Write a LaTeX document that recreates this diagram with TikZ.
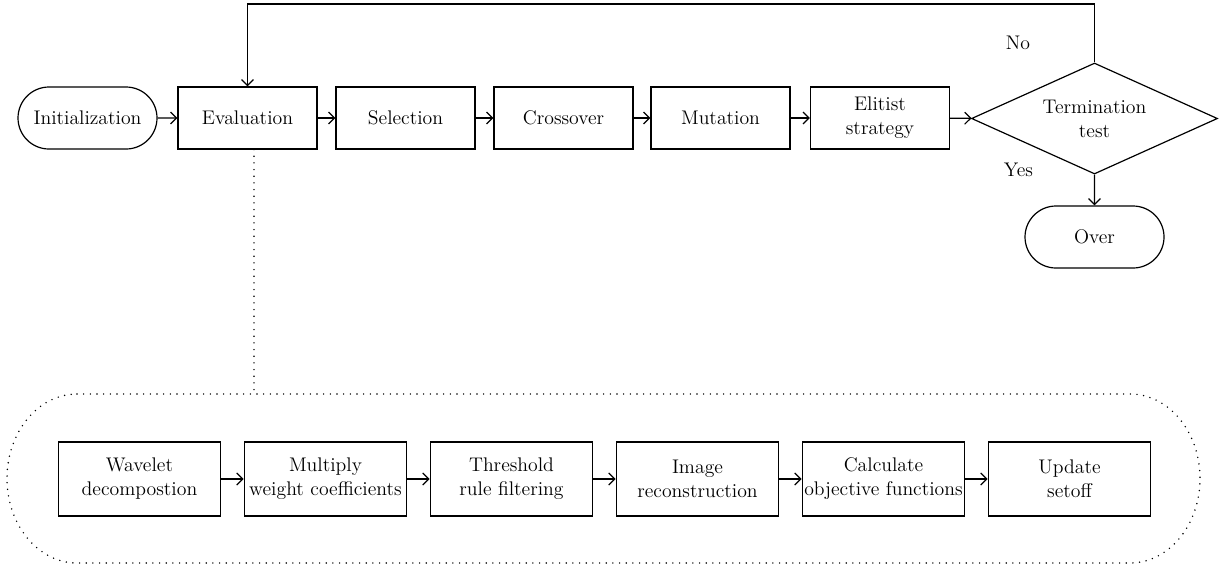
\documentclass[tikz,border=0pt]{standalone}
\usepackage{fontspec}
\usetikzlibrary{shapes.geometric,shapes.misc,arrows.meta}
\begin{document}
\begin{tikzpicture}[x=0.75pt,y=-0.75pt,
 font=\fontsize{14.8}{18}\selectfont,
 box/.style={draw, line width=0.9pt, minimum width=104.25pt, minimum height=46.5pt, inner sep=0pt, align=center},
 sbox/.style={draw, line width=0.9pt, minimum width=122pt, minimum height=55.5pt, inner sep=0pt, align=center},
 term/.style={draw, line width=0.9pt, rounded rectangle, minimum width=104.25pt, minimum height=46.5pt, inner sep=0pt},
 dec/.style={draw, line width=0.9pt, diamond, minimum width=184.5pt, minimum height=83.25pt, inner sep=0pt, align=center},
 arr/.style={line width=0.9pt, -{Straight Barb[length=4.5pt,width=9pt]}},
 dots/.style={line width=1.2pt, line cap=round, dash pattern=on 0pt off 5pt}]
\useasboundingbox (0,0) rectangle (1219,569);
% top row
\node[term] (init) at (87.5,118) {Initialization};
\node[box] (eval) at (247.5,118) {Evaluation};
\node[box] (sel) at (405.5,118) {Selection};
\node[box] (cross) at (563.5,118) {Crossover};
\node[box] (mut) at (720.5,118) {Mutation};
\node[box] (elit) at (880,118) {Elitist\\strategy};
\node[dec] (test) at (1094.5,118.5) {};
\node[align=center] (testtxt) at (test.center) {Termination\\test};
\node[term] (over) at (1094.5,237) {Over};
\node (no) at (1018,43) {No};
\node (yes) at (1018.5,170) {Yes};
\draw[arr] (init) -- (eval);
\draw[arr] (eval) -- (sel);
\draw[arr] (sel) -- (cross);
\draw[arr] (cross) -- (mut);
\draw[arr] (mut) -- (elit);
\draw[arr] (elit) -- (test);
\draw[arr] (test) -- (over);
\coordinate (fb) at (0,4);
\draw[arr] (test.north) -- (test.north |- fb) -| (eval.north);
% bottom row
\node[sbox] (w1) at (139.5,479) {Wavelet\\decompostion};
\node[sbox] (w2) at (325.5,479) {Multiply\\weight coefficients};
\node[sbox] (w3) at (511.5,479) {Threshold\\rule filtering};
\node[sbox] (w4) at (697.5,479) {Image\\reconstruction};
\node[sbox] (w5) at (883.5,479) {Calculate\\objective functions};
\node[sbox] (w6) at (1069.5,479) {Update\\setoff};
\draw[arr] (w1) -- (w2);
\draw[arr] (w2) -- (w3);
\draw[arr] (w3) -- (w4);
\draw[arr] (w4) -- (w5);
\draw[arr] (w5) -- (w6);
% dotted enclosure
\coordinate (dt) at (254,394);
\draw[dots] (eval.south -| dt) -- (dt);
\draw[dots] (77,394) -- (1130,394) arc[start angle=-90,end angle=90,x radius=70,y radius=84.5] -- (77,563) arc[start angle=90,end angle=270,x radius=70,y radius=84.5] -- cycle;
\end{tikzpicture}
\end{document}
